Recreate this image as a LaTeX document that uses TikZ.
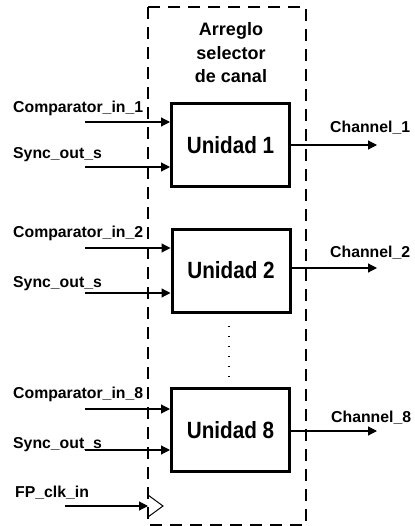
\documentclass[tikz,border=0pt]{standalone}
\usepackage{fontspec}
\setmainfont{Liberation Sans}
\usetikzlibrary{arrows.meta}
\begin{document}
\begin{tikzpicture}[x=1pt,y=-1pt,
  lbl/.style={anchor=base west,inner sep=0pt,font=\fontsize{15.8}{18}\selectfont\bfseries},
  unit/.style={draw,line width=3pt,minimum width=118pt,minimum height=83pt,inner sep=0pt,font=\fontsize{23.5}{26}\selectfont\bfseries},
  arr/.style={line width=1.2pt,-{Triangle[length=9pt,width=9pt]}},
  outer/.style={line width=1.3pt,dash pattern=on 12pt off 8pt}]
\useasboundingbox (0,0) rectangle (414,526);
\draw[outer] (148,7) rectangle (306,525);
\node[anchor=base,align=center,inner sep=0pt,font=\fontsize{18}{23.5}\selectfont\bfseries] (title) at (231,83) {Arreglo\\selector\\de canal};
\node[unit] (u1) at (230.5,145) {\scalebox{0.88}[1]{Unidad 1}};
\node[unit] (u2) at (231,270.5) {\scalebox{0.88}[1]{Unidad 2}};
\node[unit] (u8) at (230.5,430) {\scalebox{0.88}[1]{Unidad 8}};
% labels
\node[lbl] (l1c) at (13,113) {Comparator\_in\_1};
\node[lbl] (l1s) at (13,159) {Sync\_out\_s};
\node[lbl] (l2c) at (13,237) {Comparator\_in\_2};
\node[lbl] (l2s) at (13,287) {Sync\_out\_s};
\node[lbl] (l8c) at (13,398) {Comparator\_in\_8};
\node[lbl] (l8s) at (13,448) {Sync\_out\_s};
\node[lbl] (lclk) at (15,497) {FP\_clk\_in};
\node[lbl] (o1) at (330,133) {Channel\_1};
\node[lbl] (o2) at (330,257) {Channel\_2};
\node[lbl] (o8) at (331,422) {Channel\_8};
% input coordinates
\coordinate (i1c) at (85,122);
\coordinate (i1s) at (85,167);
\coordinate (i2c) at (85,248);
\coordinate (i2s) at (85,293);
\coordinate (i8c) at (85,409);
\coordinate (i8s) at (85,450);
\coordinate (e1) at (377,145);
\coordinate (e2) at (377,268);
\coordinate (e8) at (377,431);
\draw[arr] (i1c) -- (u1.west |- i1c);
\draw[arr] (i1s) -- (u1.west |- i1s);
\draw[arr] (i2c) -- (u2.west |- i2c);
\draw[arr] (i2s) -- (u2.west |- i2s);
\draw[arr] (i8c) -- (u8.west |- i8c);
\draw[arr] (i8s) -- (u8.west |- i8s);
\draw[arr] (u1.east |- e1) -- (e1);
\draw[arr] (u2.east |- e2) -- (e2);
\draw[arr] (u8.east |- e8) -- (e8);
% clock
\coordinate (clks) at (65,506);
\coordinate (clke) at (148,506);
\draw[arr] (clks) -- (clke);
\draw[line width=1pt] (148,495) -- (163,506) -- (148,517);
% dots
\draw[line width=1.5pt,dash pattern=on 1.2pt off 8.8pt] (229,326) -- (229,378);
\end{tikzpicture}
\end{document}
